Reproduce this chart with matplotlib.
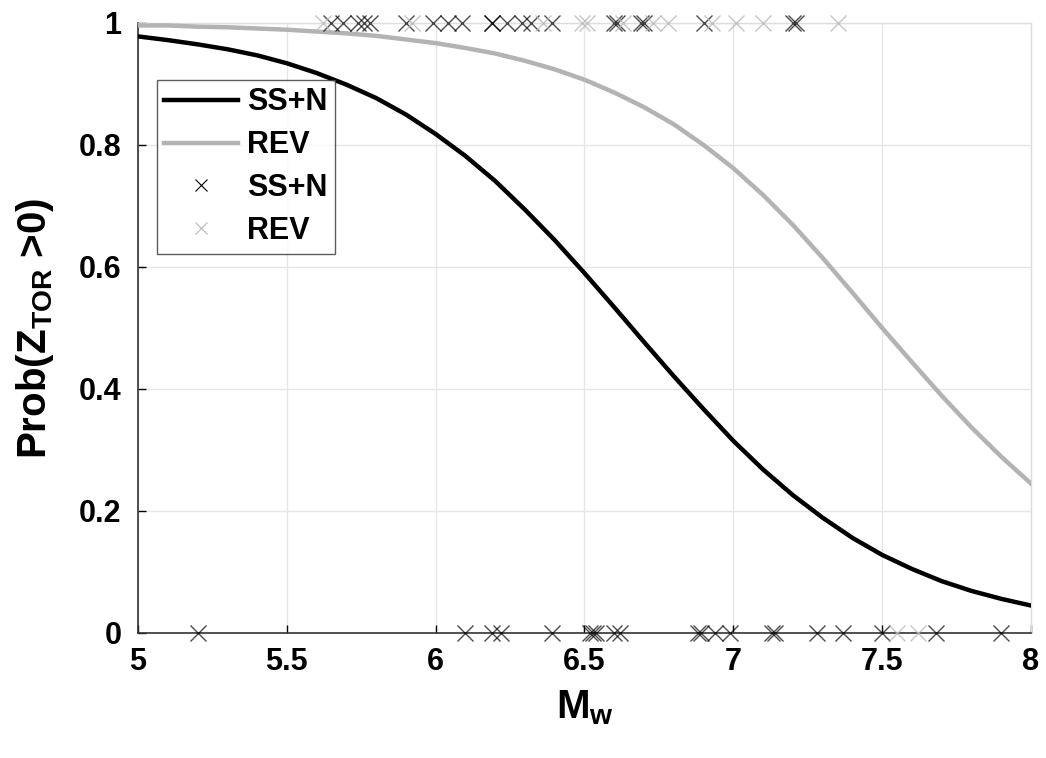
import matplotlib
matplotlib.use("Agg")
import matplotlib.pyplot as plt
from matplotlib.lines import Line2D

plt.rcParams['font.family'] = ['Liberation Sans', 'DejaVu Sans']
plt.rcParams['font.weight'] = 'bold'
plt.rcParams['mathtext.fontset'] = 'custom'
plt.rcParams['mathtext.rm'] = 'Liberation Sans:bold'
plt.rcParams['mathtext.it'] = 'Liberation Sans:bold'
plt.rcParams['mathtext.bf'] = 'Liberation Sans:bold'

# Fitted probability curves
mw_grid = [5.0, 5.1, 5.2, 5.3, 5.4, 5.5, 5.6, 5.7, 5.8, 5.9,
           6.0, 6.1, 6.2, 6.3, 6.4, 6.5, 6.6, 6.7, 6.8, 6.9,
           7.0, 7.1, 7.2, 7.3, 7.4, 7.5, 7.6, 7.7, 7.8, 7.9, 8.0]
prob_ssn = [0.978, 0.972, 0.965, 0.957, 0.947, 0.934, 0.918, 0.899, 0.877, 0.850,
            0.818, 0.782, 0.741, 0.694, 0.644, 0.590, 0.534, 0.477, 0.421, 0.367,
            0.315, 0.268, 0.226, 0.189, 0.156, 0.128, 0.105, 0.085, 0.069, 0.056, 0.045]
prob_rev = [0.996, 0.996, 0.994, 0.993, 0.991, 0.989, 0.986, 0.983, 0.979, 0.973,
            0.967, 0.959, 0.950, 0.938, 0.924, 0.907, 0.886, 0.862, 0.834, 0.800,
            0.762, 0.718, 0.669, 0.615, 0.558, 0.500, 0.444, 0.389, 0.337, 0.289, 0.245]

# Observed events (0 = rupture reaches surface, 1 = buried)
ssn_obs_zero = [5.20, 6.10, 6.19, 6.22, 6.39, 6.52, 6.53, 6.54, 6.60, 6.62,
                6.88, 6.89, 6.94, 6.99, 7.13, 7.14, 7.28, 7.37, 7.50, 7.68, 7.90]
ssn_obs_one = [5.65, 5.69, 5.74, 5.76, 5.78, 5.90, 5.99, 6.04, 6.09, 6.19, 6.19,
               6.24, 6.29, 6.32, 6.39, 6.60, 6.61, 6.69, 6.70, 6.90, 7.20, 7.21]
rev_obs_zero = [7.55, 7.62]
rev_obs_one = [5.62, 5.92, 6.36, 6.49, 6.51, 6.63, 6.73, 6.78, 6.93, 7.01, 7.10, 7.35]

x_ticks = [5, 5.5, 6, 6.5, 7, 7.5, 8]
x_tick_labels = ['5', '5.5', '6', '6.5', '7', '7.5', '8']
y_ticks = [0, 0.2, 0.4, 0.6, 0.8, 1]
y_tick_labels = ['0', '0.2', '0.4', '0.6', '0.8', '1']

BLACK = '#000000'
GRAY_LINE = '#b3b3b3'
GRAY_MARK = '#b8b8b8'

fig = plt.figure(figsize=(10.46, 7.58), dpi=100)
ax = fig.add_axes([138 / 1046, 1 - 633 / 758, (1031 - 138) / 1046, (633 - 23) / 758])

ax.plot(mw_grid, prob_ssn, color=BLACK, lw=3.2, zorder=3)
ax.plot(mw_grid, prob_rev, color=GRAY_LINE, lw=3.2, zorder=3)

mk = dict(marker='x', linestyle='none', markersize=11, markeredgewidth=1.0,
          clip_on=False, zorder=4)
ax.plot(ssn_obs_zero, [0] * len(ssn_obs_zero), color=BLACK, alpha=0.7, **mk)
ax.plot(ssn_obs_one, [1] * len(ssn_obs_one), color=BLACK, alpha=0.7, **mk)
ax.plot(rev_obs_zero, [0] * len(rev_obs_zero), color=GRAY_MARK, alpha=0.8, **mk)
ax.plot(rev_obs_one, [1] * len(rev_obs_one), color=GRAY_MARK, alpha=0.8, **mk)

ax.set_xlim(5, 8)
ax.set_ylim(0, 1)
ax.set_xticks(x_ticks)
ax.set_xticklabels(x_tick_labels)
ax.set_yticks(y_ticks)
ax.set_yticklabels(y_tick_labels)
ax.tick_params(direction='in', length=6, width=1, labelsize=22, top=False, right=False)
ax.tick_params(axis='x', pad=10)
ax.tick_params(axis='y', pad=12)
ax.grid(True, color='#e6e6e6', lw=1)
ax.set_axisbelow(True)
for side in ('left', 'bottom'):
    ax.spines[side].set_color('#333333')
    ax.spines[side].set_linewidth(1.2)
for side in ('top', 'right'):
    ax.spines[side].set_color('#dddddd')
    ax.spines[side].set_linewidth(1.0)

ax.set_xlabel(r'M$_{\rm w}$', fontsize=29, fontweight='bold', labelpad=8)
ax.set_ylabel(r'Prob(Z$_{\rm TOR}$ >0)', fontsize=29, fontweight='bold', labelpad=16)

handles = [
    Line2D([], [], color=BLACK, lw=3.2),
    Line2D([], [], color=GRAY_LINE, lw=3.2),
    Line2D([], [], color=BLACK, marker='x', linestyle='none', markersize=8, markeredgewidth=0.8),
    Line2D([], [], color=GRAY_MARK, marker='x', linestyle='none', markersize=8, markeredgewidth=0.8),
]
leg = ax.legend(handles, ['SS+N', 'REV', 'SS+N', 'REV'],
                loc='upper left', bbox_to_anchor=(0.021, 0.907), borderaxespad=0,
                frameon=True, fancybox=False, edgecolor='#333333',
                handlelength=2.4, handletextpad=0.3, labelspacing=0.42,
                borderpad=0.25, prop={'weight': 'bold', 'size': 22})
leg.get_frame().set_linewidth(1.0)

fig.savefig('out.png', dpi=100, facecolor='white')
